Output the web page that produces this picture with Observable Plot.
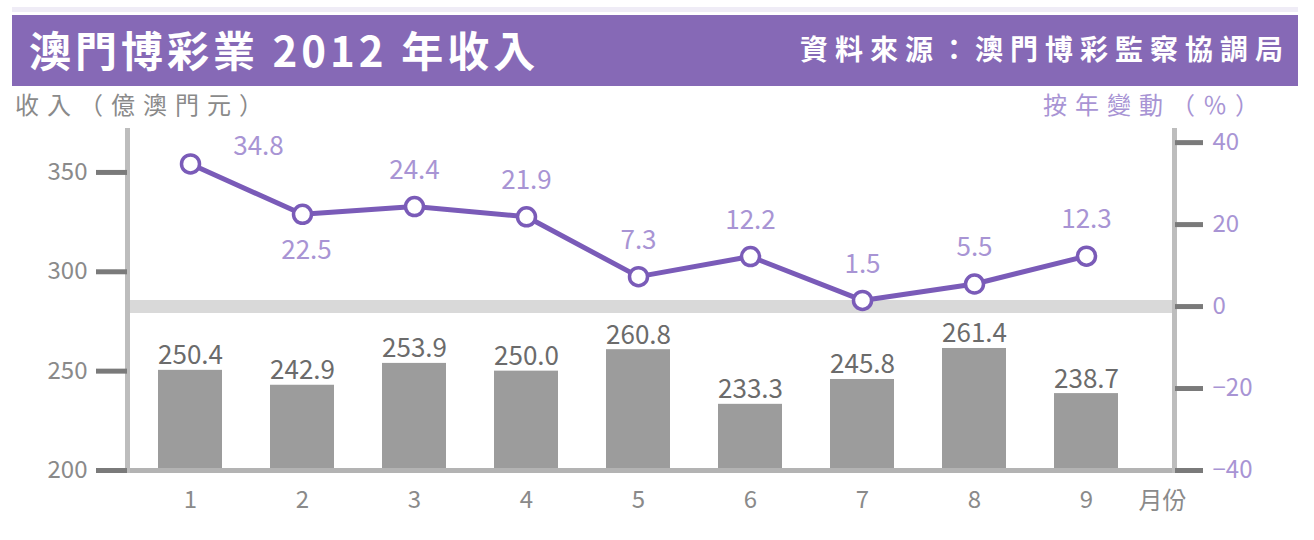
<!DOCTYPE html>
<html>
<head>
<meta charset="utf-8">
<script src="https://cdn.jsdelivr.net/npm/d3@7"></script>
<script src="https://cdn.jsdelivr.net/npm/@observablehq/plot@0.6"></script>
<style>
  body { margin:0; width:1314px; height:540px; overflow:hidden; background:#fff; font-family:"Noto Sans CJK TC","Noto Sans",sans-serif; }
  #head { position:relative; height:120px; }
  #head div { position:absolute; white-space:nowrap; }
</style>
</head>
<body>
<div id="head">
  <div style="left:12px;top:7px;width:1286px;height:5px;background:#efecf6"></div>
  <div style="left:12px;top:15px;width:1286px;height:71px;background:#8669b6"></div>
  <div id="title" style="left:29px;top:15px;height:71px;line-height:68px;color:#fff;font-size:42px;font-weight:bold;letter-spacing:4px"></div>
  <div id="source" style="right:24px;top:15px;height:71px;line-height:66px;color:#fff;font-size:28px;font-weight:bold;letter-spacing:7px"></div>
  <div id="ylabL" style="left:15px;top:89px;font-size:24px;line-height:30px;letter-spacing:8px;color:#8a8a8a"></div>
  <div id="ylabR" style="left:1043px;top:89px;font-size:24px;line-height:30px;letter-spacing:8px;color:#a894d4"></div>
</div>
<div id="chart"></div>
<script>
// ---- data ----
const title = "澳門博彩業 2012 年收入";
const source = "資料來源：澳門博彩監察協調局";
const leftLabel = "收入（億澳門元）";
const rightLabel = "按年變動（％）";
const xUnit = "月份";
const months = [1, 2, 3, 4, 5, 6, 7, 8, 9];
const revenue = [250.4, 242.9, 253.9, 250.0, 260.8, 233.3, 245.8, 261.4, 238.7];
const yoyChange = [34.8, 22.5, 24.4, 21.9, 7.3, 12.2, 1.5, 5.5, 12.3];
const leftTicks = [200, 250, 300, 350];
const rightTicks = [-40, -20, 0, 20, 40];

document.getElementById("title").textContent = title;
document.getElementById("source").textContent = source;
document.getElementById("ylabL").textContent = leftLabel;
document.getElementById("ylabR").textContent = rightLabel;

// right axis (%) mapped onto the left axis units
const toLeft = r => 200 + (r + 40) * 165 / 80;
const toRight = v => (v - 200) * 80 / 165 - 40;

const bars = months.map((m, i) => ({month: m, rev: revenue[i]}));
const yoy = months.map((m, i) => ({month: m, v: yoyChange[i], y: toLeft(yoyChange[i])}));

const purple = "#7a5bb8";
const lightPurple = "#a894d4";
const grayText = "#8a8a8a";

const chart = Plot.plot({
  width: 1314,
  height: 420,
  marginTop: 10,
  marginBottom: 70,
  marginLeft: 127,
  marginRight: 140,
  style: {fontFamily: '"Noto Sans CJK TC","Noto Sans",sans-serif', background: "white"},
  x: {type: "band", domain: months, range: [132, 1144], paddingInner: 0.43, paddingOuter: 0.215},
  y: {domain: [200, 371.1]},
  marks: [
    Plot.ruleY([toLeft(0)], {stroke: "#d9d9d9", strokeWidth: 13}),
    Plot.barY(bars, {x: "month", y1: 200, y2: "rev", fill: "#9c9c9c"}),
    Plot.ruleY([200], {stroke: "#b3b3b3", strokeWidth: 5}),
    Plot.frame({anchor: "left", stroke: "#bdbdbd", strokeWidth: 5}),
    Plot.frame({anchor: "right", stroke: "#bdbdbd", strokeWidth: 5}),
    Plot.axisY({ticks: leftTicks, tickFormat: d => String(d), tickSize: 31, tickPadding: 9,
      stroke: "#7a7a7a", strokeWidth: 5, fill: grayText, fontSize: 24, label: null}),
    Plot.axisY({anchor: "right", ticks: rightTicks.map(toLeft),
      tickFormat: v => { const r = Math.round(toRight(v)); return r < 0 ? "−" + (-r) : String(r); },
      tickSize: 28, tickPadding: 10, stroke: "#7a7a7a", strokeWidth: 5, fill: lightPurple, fontSize: 24, label: null}),
    Plot.axisX({tickSize: 0, tickPadding: 20, fill: grayText, fontSize: 24, label: null}),
    Plot.text([xUnit], {text: d => d, frameAnchor: "bottom-right", textAnchor: "middle", dx: -12, dy: 31,
      fill: grayText, fontSize: 24, lineAnchor: "middle"}),
    Plot.text(bars, {x: "month", y: "rev", text: d => d.rev.toFixed(1), dy: -6, lineAnchor: "bottom",
      fill: "#6b6b6b", stroke: "white", strokeWidth: 6, fontSize: 26}),
    Plot.line(yoy, {x: "month", y: "y", stroke: purple, strokeWidth: 5}),
    Plot.dot(yoy, {x: "month", y: "y", r: 9, fill: "white", stroke: purple, strokeWidth: 3.5}),
    Plot.text(yoy.filter(d => d.month === 1), {x: "month", y: "y", text: d => d.v.toFixed(1), dx: 68, dy: -17,
      fill: lightPurple, fontSize: 26, lineAnchor: "middle"}),
    Plot.text(yoy.filter(d => d.month === 2), {x: "month", y: "y", text: d => d.v.toFixed(1), dx: 4, dy: 36,
      fill: lightPurple, fontSize: 26, lineAnchor: "middle"}),
    Plot.text(yoy.filter(d => d.month > 2), {x: "month", y: "y", text: d => d.v.toFixed(1), dy: -36,
      fill: lightPurple, stroke: "white", strokeWidth: 4, fontSize: 26, lineAnchor: "middle"})
  ]
});
document.getElementById("chart").appendChild(chart);
</script>
</body>
</html>
